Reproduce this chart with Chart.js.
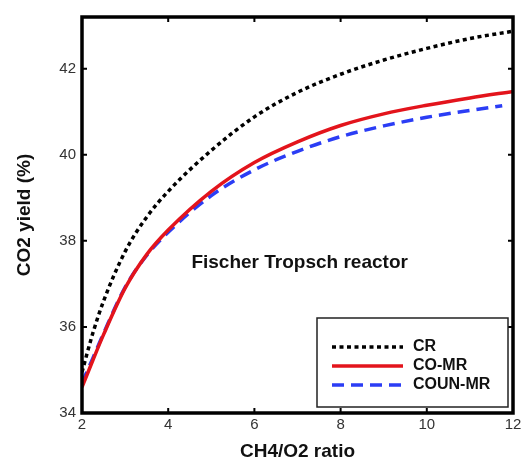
<!DOCTYPE html>
<html>
<head>
<meta charset="utf-8">
<script src="https://cdn.jsdelivr.net/npm/chart.js@4.4.0/dist/chart.umd.min.js"></script>
<style>
    html, body { margin: 0; padding: 0; background: #fff; }
    #wrap { width: 522px; height: 469px; }
</style>
</head>
<body>
<div id="wrap"><canvas id="yieldChart" width="522" height="469"></canvas></div>
<script>
// CO2 yield vs CH4/O2 ratio
const ratios = [2, 2.25, 2.5, 3, 3.5, 4, 5, 6, 7, 8, 9, 10, 11, 12];
const crYield = [34.95, 35.85, 36.6, 37.75, 38.55, 39.15, 40.1, 40.88, 41.45, 41.87, 42.2, 42.47, 42.7, 42.87];
const coMrYield = [34.6, 35.22, 35.82, 36.9, 37.68, 38.25, 39.15, 39.82, 40.3, 40.68, 40.95, 41.15, 41.32, 41.47];
const counRatios = [2, 2.25, 2.5, 3, 3.5, 4, 5, 6, 7, 8, 9, 10, 11, 11.75];
const counMrYield = [34.7, 35.27, 35.85, 36.92, 37.66, 38.2, 39.05, 39.65, 40.08, 40.42, 40.67, 40.87, 41.03, 41.14];

const xTicks = [2, 4, 6, 8, 10, 12];
const yTicks = [34, 36, 38, 40, 42];
const noteText = 'Fischer Tropsch reactor';
const notePos = { x: 7.05, y: 37.5 };

function toPoints(xs, ys) {
    return xs.map((x, i) => ({ x: x, y: ys[i] }));
}

// frame around the plot with inward tick marks on all four sides
const framePlugin = {
    id: 'frame',
    afterDatasetsDraw(chart) {
        const { ctx, chartArea: a, scales: { x, y } } = chart;
        ctx.save();
        ctx.strokeStyle = '#000';
        ctx.lineWidth = 2;
        ctx.beginPath();
        xTicks.forEach(v => {
            const px = x.getPixelForValue(v);
            ctx.moveTo(px, a.bottom); ctx.lineTo(px, a.bottom - 5);
            ctx.moveTo(px, a.top); ctx.lineTo(px, a.top + 5);
        });
        yTicks.forEach(v => {
            const py = y.getPixelForValue(v);
            ctx.moveTo(a.left, py); ctx.lineTo(a.left + 5, py);
            ctx.moveTo(a.right, py); ctx.lineTo(a.right - 5, py);
        });
        ctx.stroke();
        ctx.lineWidth = 3.5;
        ctx.strokeRect(a.left, a.top, a.right - a.left, a.bottom - a.top);

        // annotation
        ctx.fillStyle = '#111';
        ctx.font = 'bold 19px "Liberation Sans", Arial, sans-serif';
        ctx.textAlign = 'center';
        ctx.textBaseline = 'middle';
        ctx.fillText(noteText, x.getPixelForValue(notePos.x), y.getPixelForValue(notePos.y));
        ctx.restore();
    }
};

// boxed legend in the lower right corner
const boxLegendPlugin = {
    id: 'boxLegend',
    afterDraw(chart) {
        const { ctx, chartArea: a } = chart;
        const left = a.right - 196, top = a.bottom - 95;
        const w = 191, h = 89;
        ctx.save();
        ctx.fillStyle = '#fff';
        ctx.fillRect(left, top, w, h);
        ctx.strokeStyle = '#222';
        ctx.lineWidth = 1.5;
        ctx.strokeRect(left, top, w, h);
        ctx.font = 'bold 16px "Liberation Sans", Arial, sans-serif';
        ctx.textBaseline = 'middle';
        ctx.textAlign = 'left';
        chart.data.datasets.forEach((ds, i) => {
            const yy = top + 29 + i * 19;
            ctx.strokeStyle = ds.borderColor;
            ctx.lineWidth = ds.borderWidth;
            ctx.setLineDash(ds.borderDash || []);
            ctx.beginPath();
            ctx.moveTo(left + 15, yy);
            ctx.lineTo(left + 86, yy);
            ctx.stroke();
            ctx.setLineDash([]);
            ctx.fillStyle = '#111';
            ctx.fillText(ds.label, left + 96, yy);
        });
        ctx.restore();
    }
};

const ctx = document.getElementById('yieldChart').getContext('2d');
new Chart(ctx, {
    type: 'line',
    data: {
        datasets: [
            {
                label: 'CR',
                data: toPoints(ratios, crYield),
                borderColor: '#000',
                borderWidth: 3.5,
                borderDash: [4, 3.5],
                pointRadius: 0,
                fill: false,
                cubicInterpolationMode: 'monotone'
            },
            {
                label: 'CO-MR',
                data: toPoints(ratios, coMrYield),
                borderColor: '#e3141c',
                borderWidth: 3.5,
                pointRadius: 0,
                fill: false,
                cubicInterpolationMode: 'monotone'
            },
            {
                label: 'COUN-MR',
                data: toPoints(counRatios, counMrYield),
                borderColor: '#2b3df5',
                borderWidth: 3.5,
                borderDash: [12, 7],
                pointRadius: 0,
                fill: false,
                cubicInterpolationMode: 'monotone'
            }
        ]
    },
    options: {
        responsive: false,
        animation: false,
        devicePixelRatio: 1,
        layout: { padding: { top: 17, right: 9, left: 0, bottom: 0 } },
        plugins: {
            legend: { display: false },
            tooltip: { enabled: false }
        },
        scales: {
            x: {
                type: 'linear',
                min: 2,
                max: 12,
                afterBuildTicks: (scale) => { scale.ticks = xTicks.map(v => ({ value: v })); },
                afterFit: (scale) => {
                    scale.height = 56;
                    scale.paddingLeft = 0;
                    scale.paddingRight = 0;
                },
                grid: { display: false, drawTicks: false },
                border: { display: false },
                ticks: {
                    padding: 3,
                    color: '#333',
                    font: { family: '"Liberation Sans", Arial, sans-serif', size: 15 }
                },
                title: {
                    display: true,
                    text: 'CH4/O2 ratio',
                    color: '#111',
                    padding: { top: 4, bottom: 6 },
                    font: { family: '"Liberation Sans", Arial, sans-serif', size: 19, weight: 'bold' }
                }
            },
            y: {
                min: 34,
                max: 43.2,
                afterBuildTicks: (scale) => { scale.ticks = yTicks.map(v => ({ value: v })); },
                afterFit: (scale) => { scale.width = 82; },
                grid: { display: false, drawTicks: false },
                border: { display: false },
                ticks: {
                    padding: 6,
                    color: '#333',
                    font: { family: '"Liberation Sans", Arial, sans-serif', size: 15 }
                },
                title: {
                    display: true,
                    text: 'CO2 yield (%)',
                    color: '#111',
                    padding: { top: 13, bottom: 4 },
                    font: { family: '"Liberation Sans", Arial, sans-serif', size: 19, weight: 'bold' }
                }
            }
        }
    },
    plugins: [framePlugin, boxLegendPlugin]
});
</script>
</body>
</html>
